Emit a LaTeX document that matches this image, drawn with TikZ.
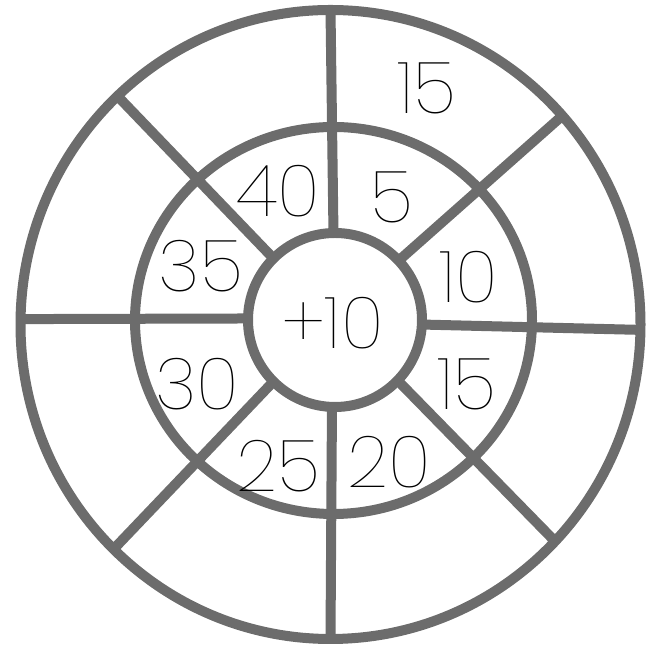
\documentclass[tikz,border=0pt]{standalone}
\usepackage{fontspec}
\newfontfamily\numfont{Poppins Thin}
\usetikzlibrary{shapes.geometric}
\definecolor{ringgray}{RGB}{108,108,108}
\begin{document}
\begin{tikzpicture}[
  ring/.style={ellipse, draw=ringgray, line width=0.2cm, inner sep=0pt, outer sep=0pt},
  num/.style={inner sep=0pt, font=\numfont\fontsize{41}{41}\selectfont}]
\useasboundingbox (0,0) rectangle (13.16,13);

\node[ring, minimum width=12.4cm, minimum height=12.58cm] (rim) at (6.61,6.51) {};
\node[ring, minimum width=7.94cm, minimum height=7.74cm] (mid) at (6.67,6.59) {};
\node[ring, minimum width=3.48cm, minimum height=3.48cm] (hub) at (6.70,6.60) {};

\foreach \a/\b in {91/90.5, 43/42.4, -3/-1.2, -44/-44.9, -92/-90.8, -135/-134.5, 179/179.4, 135/133.3}
  \draw[ringgray, line width=0.2cm] (hub.\a) -- (rim.\b);

\node[num] (top15) at (8.54,11.24) {15};
\node[num] (n40) at (5.56,9.18) {40};
\node[num] (n5) at (7.84,9.06) {5};
\node[num] (n35) at (4.02,7.68) {35};
\node[num] (n10) at (9.38,7.46) {10};
\node[num] (plus) at (6.66,6.54) {+10};
\node[num] (n30) at (3.94,5.32) {30};
\node[num] (n15) at (9.34,5.32) {15};
\node[num] (n25) at (5.56,3.68) {25};
\node[num] (n20) at (7.78,3.76) {20};
\end{tikzpicture}
\end{document}
